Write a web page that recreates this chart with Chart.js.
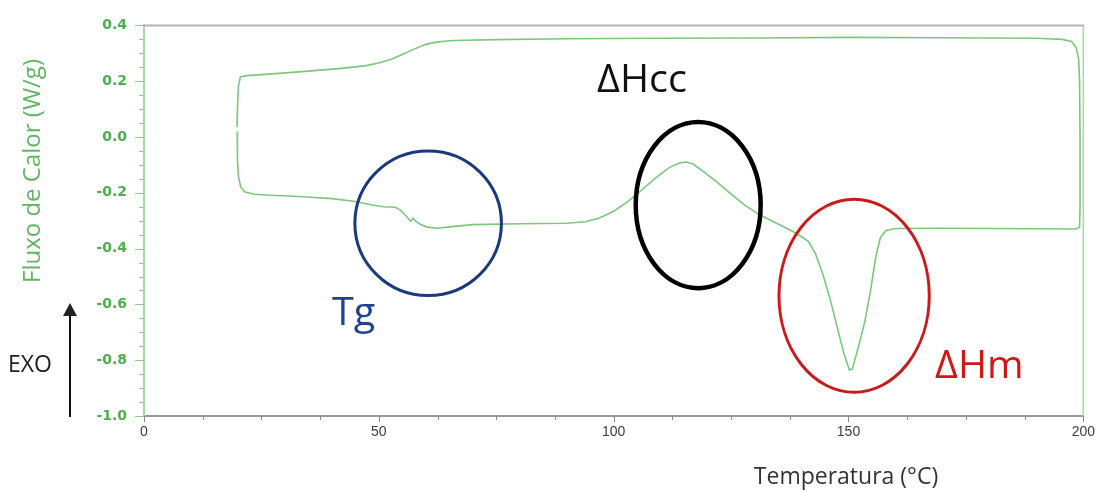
<!DOCTYPE html>
<html>
<head>
<meta charset="utf-8">
<script src="https://cdn.jsdelivr.net/npm/chart.js@4.4.1/dist/chart.umd.min.js"></script>
<style>
html,body{margin:0;padding:0;background:#fff;}
#wrap{position:relative;width:1103px;height:491px;}
</style>
</head>
<body>
<div id="wrap"><canvas id="c" width="1103" height="491"></canvas></div>
<script>
// Temperature (°C) and heat flow (W/g) along the DSC loop
const temperature = [19.85,19.9,20.1,20.6,21.5,23.5,27,33,40,45,48.5,51,53.5,54.6,55.8,56.8,57.1,57.3,57.8,58.8,60.3,62.5,65,70,80,90,94,97,100,103,106,109,112,114,115.5,117,119,122,125,128,131,135,139,141.5,143,144.5,146,147.5,149,150.2,150.8,152,153.5,154.8,155.8,156.8,158,160,170,180,190,198.5,199.2,199.3,199.3,199.2,199.0,198.5,197.5,195.5,190,170,150,130,110,90,75,66,62.5,60,57.5,55,52.5,50,47,42,35,28,22,20.5,20.1,19.9,19.8];
const heatFlow = [0.02,-0.08,-0.14,-0.18,-0.197,-0.205,-0.209,-0.213,-0.221,-0.231,-0.244,-0.25,-0.252,-0.262,-0.283,-0.302,-0.296,-0.291,-0.301,-0.313,-0.323,-0.327,-0.322,-0.314,-0.311,-0.309,-0.304,-0.29,-0.266,-0.232,-0.19,-0.146,-0.108,-0.093,-0.09,-0.098,-0.122,-0.162,-0.205,-0.245,-0.278,-0.312,-0.346,-0.375,-0.42,-0.49,-0.575,-0.675,-0.775,-0.835,-0.832,-0.76,-0.66,-0.54,-0.43,-0.36,-0.335,-0.328,-0.327,-0.328,-0.329,-0.33,-0.322,-0.25,0.0,0.2,0.28,0.32,0.342,0.35,0.354,0.356,0.357,0.355,0.354,0.352,0.349,0.346,0.341,0.332,0.315,0.296,0.278,0.265,0.255,0.246,0.236,0.227,0.22,0.215,0.18,0.1,0.035];
const xMajorTicks = [0,50,100,150,200];
const yMajorTicks = [-1.0,-0.8,-0.6,-0.4,-0.2,0.0,0.2,0.4];

// Highlight ellipses (data units) and their labels
const regionNames = ['Tg','ΔHcc','ΔHm'];
const regionCenterT = [60.5,118.0,151.2];
const regionCenterHF = [-0.309,-0.244,-0.569];
const regionRadiusT = [15.6,13.3,16.0];
const regionRadiusHF = [0.259,0.298,0.346];

const styleCfg = {
  ellipseColors:['#1b3a7c','#000000','#c81c1c'],
  ellipseWidths:[3,4.5,3],
  labelColors:['#1f4290','#111111','#d01818'],
  labelPos:[[332,325],[597,92],[935,378]]
};

const points = temperature.map((t,i)=>({x:t,y:heatFlow[i]}));

const isMajor = (v, list)=> list.some(m=>Math.abs(m-v)<1e-6);

const decor = {
  id:'decor',
  afterDraw(chart){
    const ctx = chart.ctx, a = chart.chartArea;
    const xs = chart.scales.x, ys = chart.scales.y;
    ctx.save();
    // top and right frame
    ctx.strokeStyle='#b4b4b4'; ctx.lineWidth=2;
    ctx.beginPath(); ctx.moveTo(a.left,a.top); ctx.lineTo(a.right+1,a.top); ctx.stroke();
    ctx.strokeStyle='#a8d8a8'; ctx.lineWidth=1.5;
    ctx.beginPath(); ctx.moveTo(a.right,a.top); ctx.lineTo(a.right,a.bottom); ctx.stroke();
    // y ticks
    ctx.strokeStyle='#8fca8f'; ctx.lineWidth=1;
    ys.ticks.forEach(t=>{
      const py = Math.round(ys.getPixelForValue(t.value))+0.5;
      const len = isMajor(t.value,yMajorTicks)?9:5;
      ctx.beginPath(); ctx.moveTo(a.left-len,py); ctx.lineTo(a.left,py); ctx.stroke();
    });
    // x ticks
    ctx.strokeStyle='#8a8a8a';
    xs.ticks.forEach(t=>{
      const px = Math.round(xs.getPixelForValue(t.value))+0.5;
      const len = isMajor(t.value,xMajorTicks)?6:4;
      ctx.beginPath(); ctx.moveTo(px,a.bottom); ctx.lineTo(px,a.bottom+len); ctx.stroke();
    });
    // ellipses
    regionNames.forEach((n,i)=>{
      const cx = xs.getPixelForValue(regionCenterT[i]);
      const cy = ys.getPixelForValue(regionCenterHF[i]);
      const rx = Math.abs(xs.getPixelForValue(regionCenterT[i]+regionRadiusT[i])-cx);
      const ry = Math.abs(ys.getPixelForValue(regionCenterHF[i]+regionRadiusHF[i])-cy);
      ctx.strokeStyle=styleCfg.ellipseColors[i]; ctx.lineWidth=styleCfg.ellipseWidths[i];
      ctx.beginPath(); ctx.ellipse(cx,cy,rx,ry,0,0,Math.PI*2); ctx.stroke();
      ctx.fillStyle=styleCfg.labelColors[i];
      ctx.font='38px "Open Sans"'; ctx.textAlign='left'; ctx.textBaseline='alphabetic';
      ctx.save();
      ctx.translate(styleCfg.labelPos[i][0], styleCfg.labelPos[i][1]);
      ctx.scale(1.04,1);
      ctx.fillText(n,0,0);
      ctx.restore();
    });
    // y title
    ctx.save();
    ctx.translate(40,171); ctx.rotate(-Math.PI/2);
    ctx.fillStyle='#63b463'; ctx.font='24px "Open Sans"'; ctx.textAlign='center'; ctx.textBaseline='alphabetic';
    ctx.fillText('Fluxo de Calor (W/g)',0,0);
    ctx.restore();
    // x title
    ctx.fillStyle='#333'; ctx.font='23px "Open Sans"'; ctx.textAlign='center';
    ctx.fillText('Temperatura (°C)',846,484);
    // EXO + arrow
    ctx.fillStyle='#222'; ctx.font='23px "Open Sans"'; ctx.textAlign='left';
    ctx.fillText('EXO',8,372);
    ctx.strokeStyle='#111'; ctx.lineWidth=2;
    ctx.beginPath(); ctx.moveTo(70,417); ctx.lineTo(70,312); ctx.stroke();
    ctx.beginPath(); ctx.moveTo(70,303); ctx.lineTo(63,316); ctx.lineTo(77,316); ctx.closePath(); ctx.fill();
    ctx.restore();
  }
};

new Chart(document.getElementById('c'),{
  type:'scatter',
  data:{datasets:[{
    data:points, showLine:true, borderColor:'#7cc77c', borderWidth:1.6,
    pointRadius:0, tension:0, fill:false
  }]},
  options:{
    responsive:false, animation:false,
    layout:{padding:{top:21,right:17,left:0,bottom:0}},
    plugins:{legend:{display:false},tooltip:{enabled:false}},
    scales:{
      x:{
        type:'linear', min:0, max:200,
        afterFit(s){s.height=75;},
        border:{display:true,color:'#9a9a9a',width:2},
        grid:{drawOnChartArea:false,drawTicks:false},
        ticks:{stepSize:12.5,autoSkip:false,maxRotation:0,padding:8,color:'#3c3c3c',
          font:{family:'Liberation Sans',size:14},
          callback:(v)=> isMajor(v,xMajorTicks)? String(v):''}
      },
      y:{
        type:'linear', min:-1.0, max:0.4,
        afterFit(s){s.width=144;},
        border:{display:true,color:'#a8d8a8',width:2},
        grid:{drawOnChartArea:false,drawTicks:false},
        ticks:{stepSize:0.05,autoSkip:false,padding:17,color:'#4fae4f',
          font:{family:'DejaVu Sans',size:14,weight:'bold'},
          callback:(v)=> isMajor(v,yMajorTicks)? (Math.abs(v)<1e-9?0:v).toFixed(1):''}
      }
    }
  },
  plugins:[decor]
});
</script>
</body>
</html>
